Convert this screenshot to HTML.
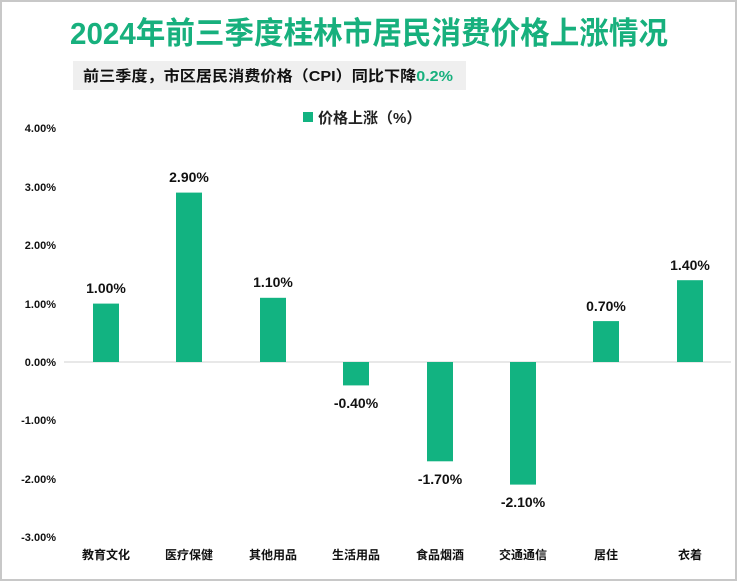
<!DOCTYPE html>
<html><head><meta charset="utf-8"><style>
body{margin:0;background:#fff;}
svg{display:block;font-family:"Liberation Sans","Noto Sans CJK SC",sans-serif;}
</style></head><body>
<svg width="737" height="581" viewBox="0 0 737 581">
<rect x="1" y="1" width="735" height="579" fill="#fff" stroke="#c8c8c8" stroke-width="2"/>
<text x="70" y="44" textLength="598" lengthAdjust="spacingAndGlyphs" font-size="31" font-weight="bold" fill="#17b07d">2024年前三季度桂林市居民消费价格上涨情况</text>
<rect x="73" y="61" width="393" height="29" fill="#efefef"/>
<text x="83" y="81" font-size="15" font-weight="bold" fill="#111" textLength="370" lengthAdjust="spacingAndGlyphs">前三季度，市区居民消费价格（CPI）同比下降<tspan fill="#17b07d">0.2%</tspan></text>
<rect x="303" y="112" width="10" height="10" fill="#12b381"/>
<text x="318" y="123" font-size="15" font-weight="bold" fill="#222">价格上涨（%）</text>
<g font-size="11" font-weight="bold" fill="#111" text-anchor="end">
<text x="56" y="132">4.00%</text>
<text x="56" y="191">3.00%</text>
<text x="56" y="249">2.00%</text>
<text x="56" y="308">1.00%</text>
<text x="56" y="366">0.00%</text>
<text x="56" y="424">-1.00%</text>
<text x="56" y="483">-2.00%</text>
<text x="56" y="541">-3.00%</text>
</g>
<line x1="64" y1="362" x2="731" y2="362" stroke="#d0d0d0" stroke-width="1"/>
<g fill="#12b381">
<rect x="93" y="303.6" width="26" height="58.4"/>
<rect x="176" y="192.6" width="26" height="169.4"/>
<rect x="260" y="297.8" width="26" height="64.2"/>
<rect x="343" y="362" width="26" height="23.4"/>
<rect x="427" y="362" width="26" height="99.3"/>
<rect x="510" y="362" width="26" height="122.6"/>
<rect x="593" y="321.1" width="26" height="40.9"/>
<rect x="677" y="280.2" width="26" height="81.8"/>
</g>
<g font-size="14" font-weight="bold" fill="#111" text-anchor="middle">
<text x="106" y="293">1.00%</text>
<text x="189" y="182">2.90%</text>
<text x="273" y="287">1.10%</text>
<text x="356" y="408">-0.40%</text>
<text x="440" y="484">-1.70%</text>
<text x="523" y="507">-2.10%</text>
<text x="606" y="311">0.70%</text>
<text x="690" y="270">1.40%</text>
</g>
<g font-size="12" font-weight="bold" fill="#111" text-anchor="middle">
<text x="106" y="559">教育文化</text>
<text x="189" y="559">医疗保健</text>
<text x="273" y="559">其他用品</text>
<text x="356" y="559">生活用品</text>
<text x="440" y="559">食品烟酒</text>
<text x="523" y="559">交通通信</text>
<text x="606" y="559">居住</text>
<text x="690" y="559">衣着</text>
</g>
</svg>
</body></html>
